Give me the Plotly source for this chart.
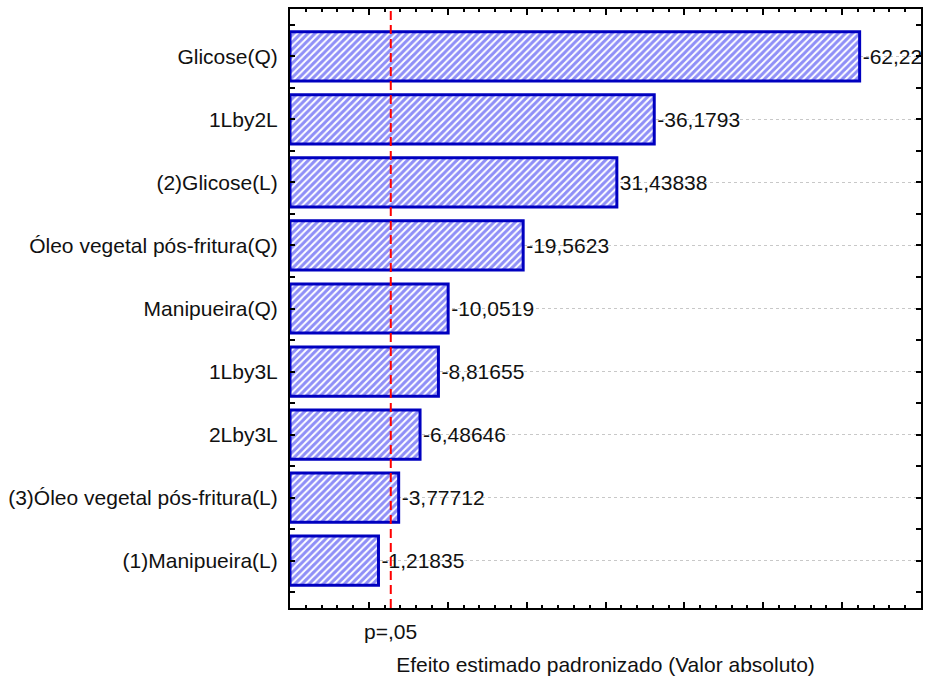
import plotly.graph_objects as go

# Standardized effects (Pareto chart), ordered by absolute magnitude
factors = [
    "Glicose(Q)",
    "1Lby2L",
    "(2)Glicose(L)",
    "Óleo vegetal pós-fritura(Q)",
    "Manipueira(Q)",
    "1Lby3L",
    "2Lby3L",
    "(3)Óleo vegetal pós-fritura(L)",
    "(1)Manipueira(L)",
]
effects = [-62.22, -36.1793, 31.43838, -19.5623, -10.0519, -8.81655, -6.48646, -3.77712, -1.21835]
value_labels = ["-62,22", "-36,1793", "31,43838", "-19,5623", "-10,0519",
                "-8,81655", "-6,48646", "-3,77712", "-1,21835"]
t_critical = 2.776  # p = .05 reference line
x_min, x_max = -10, 70

FONT = "Liberation Sans, Arial, sans-serif"
FSIZE = 21

abs_effects = [abs(v) for v in effects]
positions = list(range(len(factors)))

fig = go.Figure()
fig.add_trace(go.Bar(
    y=positions,
    x=[v - x_min for v in abs_effects],
    base=x_min,
    orientation="h",
    width=0.78,
    marker=dict(
        color="white",
        line=dict(color="#0000c0", width=3),
        pattern=dict(shape="/", fgcolor="#2020f0", bgcolor="white", size=5, solidity=0.6),
    ),
    text=value_labels,
    textposition="outside",
    textfont=dict(family=FONT, size=FSIZE, color="#111"),
    constraintext="none",
    cliponaxis=True,
    showlegend=False,
    hoverinfo="skip",
))

fig.add_shape(
    type="line", xref="x", yref="paper",
    x0=t_critical, x1=t_critical, y0=0, y1=1,
    line=dict(color="#ff0000", width=2, dash="9px,5px"),
)

fig.add_annotation(
    x=t_critical, xref="x", y=-0.04, yref="paper",
    text="p=,05", showarrow=False, yanchor="middle",
    font=dict(family=FONT, size=FSIZE, color="#111"),
)

fig.update_layout(
    width=927, height=681,
    margin=dict(l=290, r=4, t=9, b=73),
    paper_bgcolor="white", plot_bgcolor="white",
    font=dict(family=FONT, size=FSIZE, color="#111"),
    bargap=0.22,
)

fig.update_xaxes(
    range=[x_min, x_max],
    showgrid=False, zeroline=False,
    showline=True, linecolor="black", linewidth=2, mirror="allticks",
    ticks="inside", ticklen=6, tickwidth=1.5, tickcolor="black",
    tick0=0, dtick=10, showticklabels=False,
    minor=dict(ticks="inside", ticklen=3, tickcolor="black", dtick=2, tick0=0, showgrid=False),
    title=dict(text="Efeito estimado padronizado (Valor absoluto)", standoff=48,
               font=dict(family=FONT, size=FSIZE, color="#111")),
)

fig.update_yaxes(
    range=[len(factors) - 0.25, -0.75],
    tickvals=positions, ticktext=factors,
    showgrid=True, gridcolor="#c8c8c8", griddash="dot", gridwidth=1,
    zeroline=False,
    showline=True, linecolor="black", linewidth=2, mirror="allticks",
    ticks="inside", ticklen=5, tickwidth=1.5, tickcolor="black",
    minor=dict(ticks="inside", ticklen=5, tickcolor="black",
               tickvals=[p + 0.5 for p in [-1] + positions], showgrid=False),
    ticklabelstandoff=6,
)

fig.write_html("out.html")
